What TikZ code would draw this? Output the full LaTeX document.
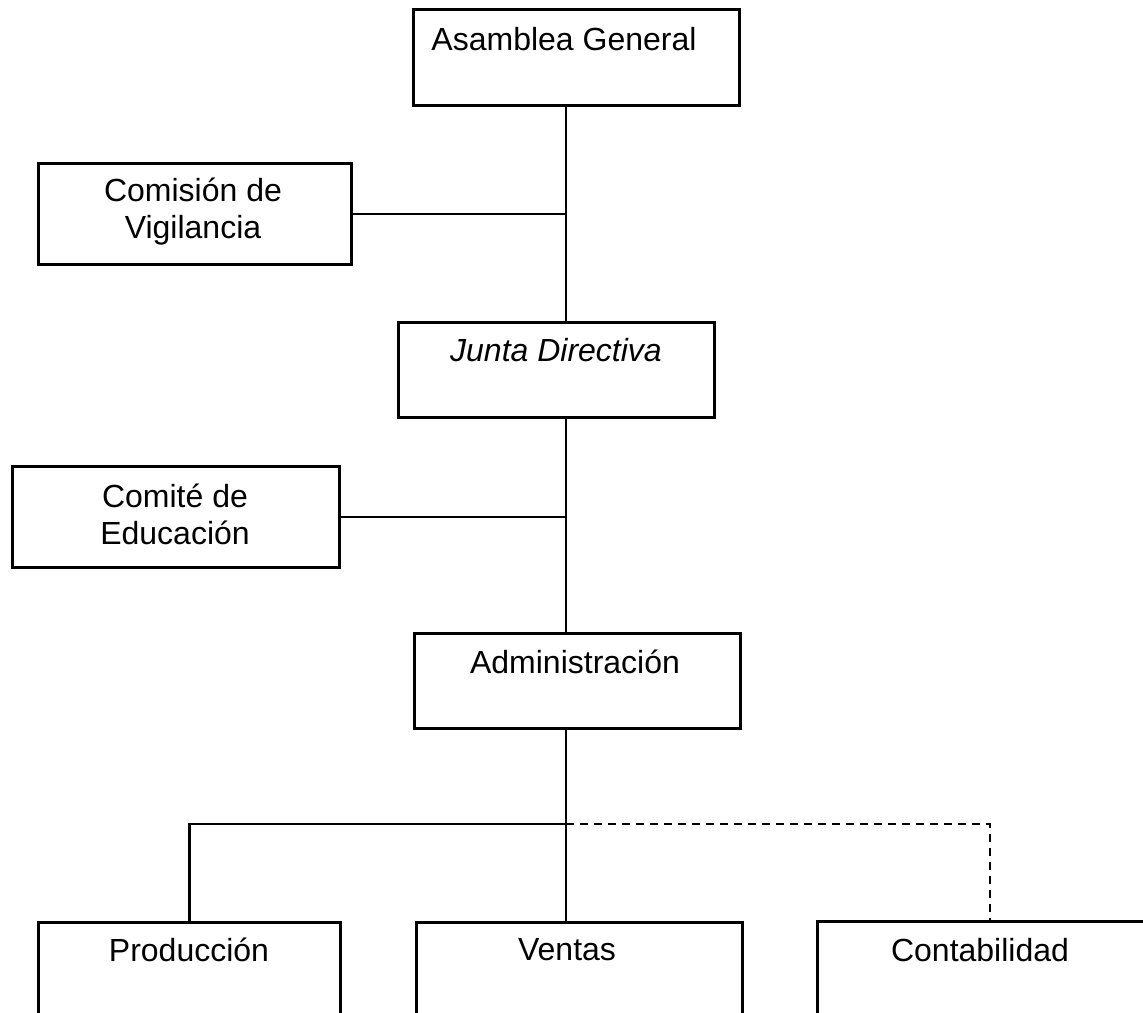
\documentclass[tikz,border=0pt]{standalone}
\usepackage{fontspec}
\setmainfont{Liberation Sans}
\begin{document}
\begin{tikzpicture}[x=0.5pt,y=-0.5pt,
  box/.style={draw, line width=1.3pt, inner sep=0pt, anchor=north west},
  lbl/.style={font=\fontsize{16}{18.5}\selectfont, align=center, inner sep=0pt},
  conn/.style={line width=1.2pt},
  dconn/.style={line width=1.2pt, dash pattern=on 4pt off 3pt}]
\useasboundingbox (0,0) rectangle (1143,1012);
\clip (0,0) rectangle (1143,1012);
% boxes
\node[box, minimum width=326*0.5pt, minimum height=96*0.5pt] (asam) at (412,8) {};
\node[box, minimum width=313*0.5pt, minimum height=101*0.5pt] (comis) at (37,162) {};
\node[box, minimum width=316*0.5pt, minimum height=95*0.5pt] (junta) at (397,321) {};
\node[box, minimum width=327*0.5pt, minimum height=101*0.5pt] (comite) at (11,465) {};
\node[box, minimum width=326*0.5pt, minimum height=95*0.5pt] (admin) at (413,632) {};
\node[box, minimum width=302*0.5pt, minimum height=140*0.5pt] (prod) at (37,921) {};
\node[box, minimum width=326*0.5pt, minimum height=140*0.5pt] (ventas) at (415,921) {};
\node[box, minimum width=348*0.5pt, minimum height=140*0.5pt] (conta) at (816,920) {};
% labels
\node[lbl] (tasam) at (564,39) {Asamblea General};
\node[lbl] (tcomis) at (193,212) {Comisión de\\Vigilancia};
\node[lbl, font=\fontsize{16}{18.5}\selectfont\itshape] (tjunta) at (556,350) {Junta Directiva};
\node[lbl] (tcomite) at (175,514) {Comité de\\Educación};
\node[lbl] (tadmin) at (575,662) {Administración};
\node[lbl] (tprod) at (189,950) {Producción};
\node[lbl] (tventas) at (567,950) {Ventas};
\node[lbl] (tconta) at (980,950) {Contabilidad};
% connectors
\coordinate (sp) at (566,0);
\coordinate (bus) at (566,824);
\coordinate (dsp) at (990,0);
\draw[conn] (asam.south -| sp) -- (junta.north -| sp);
\draw[conn] (comis.east) -- (comis.east -| sp);
\draw[conn] (junta.south -| sp) -- (admin.north -| sp);
\draw[conn] (comite.east) -- (comite.east -| sp);
\draw[conn] (admin.south -| sp) -- (ventas.north -| sp);
\draw[conn] (prod.north) |- (bus);
\draw[dconn] (bus) -| (conta.north -| dsp);
\end{tikzpicture}
\end{document}
